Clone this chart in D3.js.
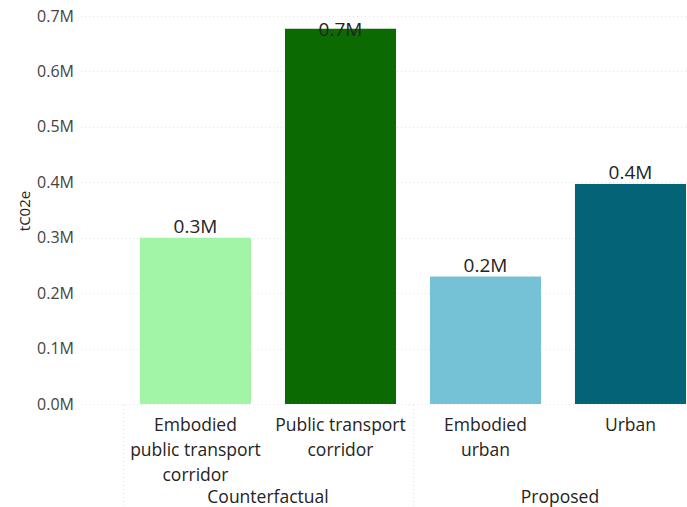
<!DOCTYPE html>
<html>
<head>
<meta charset="utf-8">
<script src="https://cdn.jsdelivr.net/npm/d3@7"></script>
<style>
  html, body { margin: 0; padding: 0; background: #fff; }
  svg { display: block; }
  text { font-family: "Open Sans", "Noto Sans", sans-serif; }
</style>
</head>
<body>
<svg id="chart" width="687" height="507"></svg>
<script>
// ---- data ----
const categories = ["Embodied public transport corridor", "Public transport corridor", "Embodied urban", "Urban"];
const categoryLines = [["Embodied", "public transport", "corridor"], ["Public transport", "corridor"], ["Embodied", "urban"], ["Urban"]];
const groups = ["Counterfactual", "Counterfactual", "Proposed", "Proposed"];
const groupNames = ["Counterfactual", "Proposed"];
const values = [300000, 677000, 230000, 397000];
const barColors = ["#a2f4a6", "#0b6a02", "#75c1d5", "#026476"];
const yTicks = [0, 100000, 200000, 300000, 400000, 500000, 600000, 700000];
const yTitle = "tC02e";

// ---- layout ----
const svg = d3.select("#chart");
const x0 = 123, x1 = 703, yTop = 16, yBottom = 404;
const textColor = "#252423";

const x = d3.scaleBand().domain(categories).range([x0, x1]).paddingInner(0.234).paddingOuter(0.117);
const y = d3.scaleLinear().domain([0, 700000]).range([yBottom, yTop]);
const fmt = v => (v / 1e6).toFixed(1) + "M";

// gridlines
svg.append("g").selectAll("line").data(yTicks).join("line")
  .attr("x1", 81).attr("x2", 687)
  .attr("y1", d => Math.round(y(d)) + 0.5).attr("y2", d => Math.round(y(d)) + 0.5)
  .attr("stroke", "#e3e3e3").attr("stroke-width", 1).attr("stroke-dasharray", "1,3");

// y axis
const yAxis = d3.axisLeft(y).tickValues(yTicks).tickFormat(fmt).tickSize(0).tickPadding(0);
const gy = svg.append("g").attr("transform", "translate(74,0)").call(yAxis);
gy.select(".domain").remove();
gy.selectAll("text").attr("fill", "#444444").style("font-size", "16px")
  .style("font-family", '"Open Sans", sans-serif');

svg.append("text")
  .attr("transform", "translate(24,211) rotate(-90)")
  .attr("text-anchor", "middle").attr("dominant-baseline", "central")
  .attr("fill", textColor).style("font-size", "15px")
  .text(yTitle);

// bars
svg.append("g").selectAll("rect").data(categories).join("rect")
  .attr("x", d => x(d)).attr("width", x.bandwidth())
  .attr("y", (d, i) => y(values[i])).attr("height", (d, i) => yBottom - y(values[i]))
  .attr("fill", (d, i) => barColors[i]);

// data labels
svg.append("g").selectAll("text").data(categories).join("text")
  .attr("x", d => x(d) + x.bandwidth() / 2)
  .attr("y", (d, i) => Math.max(y(values[i]) - 5, 36))
  .attr("text-anchor", "middle").attr("fill", textColor)
  .style("font-size", "19px")
  .text((d, i) => fmt(values[i]));

// x category labels
const xg = svg.append("g");
categories.forEach((c, i) => {
  const t = xg.append("text")
    .attr("x", x(c) + x.bandwidth() / 2).attr("y", 431)
    .attr("text-anchor", "middle").attr("fill", textColor).style("font-size", "17.5px");
  categoryLines[i].forEach((ln, j) => {
    t.append("tspan").attr("x", x(c) + x.bandwidth() / 2).attr("dy", j === 0 ? 0 : 25).text(ln);
  });
});

// group separators and labels
const step = x.step();
const groupBounds = groupNames.map(g => {
  const idx = groups.map((gg, i) => gg === g ? i : -1).filter(i => i >= 0);
  const start = x(categories[idx[0]]) - step * 0.117;
  const end = x(categories[idx[idx.length - 1]]) + x.bandwidth() + step * 0.117;
  return { g, start, end };
});
svg.append("g").selectAll("line").data(groupBounds).join("line")
  .attr("x1", d => Math.round(d.start) + 0.5).attr("x2", d => Math.round(d.start) + 0.5)
  .attr("y1", 405).attr("y2", 507)
  .attr("stroke", "#dcdcdc").attr("stroke-dasharray", "1,3");
svg.append("g").selectAll("text").data(groupBounds).join("text")
  .attr("x", d => d.g === "Proposed" ? 560 : (d.start + d.end) / 2)
  .attr("y", 503)
  .attr("text-anchor", "middle").attr("fill", textColor).style("font-size", "17.5px")
  .text(d => d.g);
</script>
</body>
</html>
